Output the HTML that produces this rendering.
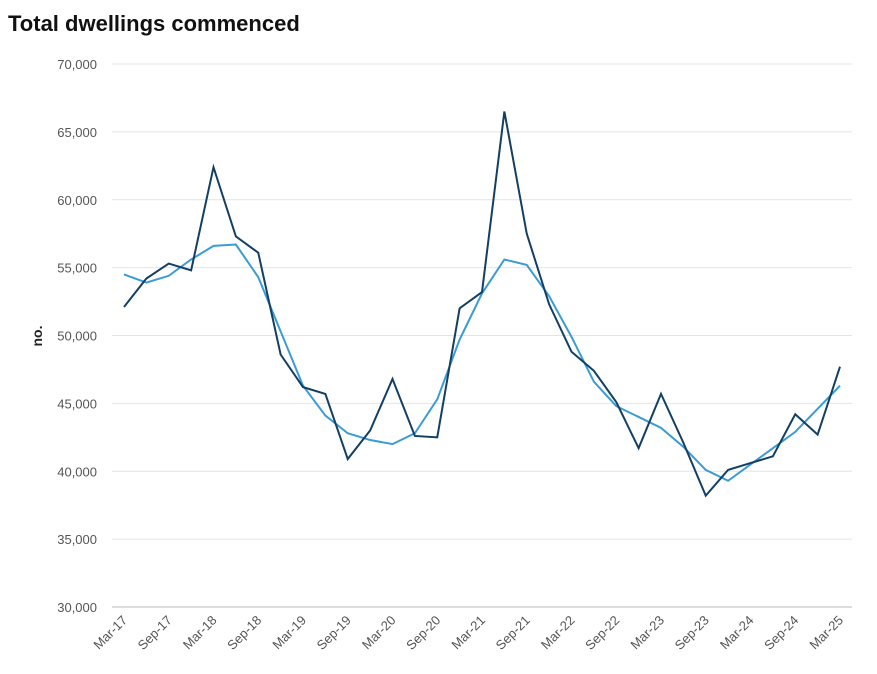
<!DOCTYPE html>
<html><head><meta charset="utf-8"><style>
body{margin:0;background:#fff;font-family:"Liberation Sans",sans-serif;}
</style></head><body>
<svg width="877" height="669" viewBox="0 0 877 669" xmlns="http://www.w3.org/2000/svg">
<text x="8" y="31" font-size="22" font-weight="bold" fill="#111">Total dwellings commenced</text>
<text transform="translate(42,336) rotate(-90)" text-anchor="middle" font-size="14" font-weight="bold" fill="#222">no.</text>
<g id="grid"></g><g id="xl"></g><g id="lines"></g>
</svg>
<script>
const categories=["Mar-17","Jun-17","Sep-17","Dec-17","Mar-18","Jun-18","Sep-18","Dec-18","Mar-19","Jun-19","Sep-19","Dec-19","Mar-20","Jun-20","Sep-20","Dec-20","Mar-21","Jun-21","Sep-21","Dec-21","Mar-22","Jun-22","Sep-22","Dec-22","Mar-23","Jun-23","Sep-23","Dec-23","Mar-24","Jun-24","Sep-24","Dec-24","Mar-25"];
const original=[52100,54200,55300,54800,62400,57300,56100,48600,46200,45700,40900,43000,46800,42600,42500,52000,53200,66500,57500,52300,48800,47400,45100,41700,45700,42100,38200,40100,40600,41100,44200,42700,47700];
const trend=[54500,53900,54400,55600,56600,56700,54300,50300,46300,44100,42800,42300,42000,42800,45300,49700,53100,55600,55200,52900,49900,46600,44800,44000,43200,41800,40100,39300,40500,41700,42900,44600,46300];
const yTicks=[30000,35000,40000,45000,50000,55000,60000,65000,70000];
const NS="http://www.w3.org/2000/svg";
const x=i=>124+i*(840-124)/(categories.length-1);
const y=v=>607-(v-30000)*(607-64)/40000;
const grid=document.getElementById('grid');
yTicks.forEach(t=>{
 const l=document.createElementNS(NS,'line');
 
 
 l.setAttribute('x1',112);l.setAttribute('x2',852);l.setAttribute('y1',y(t));l.setAttribute('y2',y(t));
 l.setAttribute('stroke',t===30000?'#bbb':'#e4e4e4');l.setAttribute('stroke-width',1);
 grid.appendChild(l);
 const tx=document.createElementNS(NS,'text');
 
 
 tx.setAttribute('x',97);tx.setAttribute('y',y(t)+5);tx.setAttribute('text-anchor','end');
 tx.setAttribute('font-size',13);tx.setAttribute('fill','#555');
 tx.textContent=t.toLocaleString('en-US');grid.appendChild(tx);
});
const xl=document.getElementById('xl');
categories.forEach((c,i)=>{
 if(i%2)return;
 const tx=document.createElementNS(NS,'text');
 
 
 tx.setAttribute('transform',`translate(${x(i)+4},${621}) rotate(-45)`);
 tx.setAttribute('text-anchor','end');tx.setAttribute('font-size',13);tx.setAttribute('fill','#555');
 tx.textContent=c;xl.appendChild(tx);
});
const lines=document.getElementById('lines');
function draw(arr,col,name){
 const p=document.createElementNS(NS,'polyline');
 
 
 p.setAttribute('points',arr.map((v,i)=>x(i)+','+y(v)).join(' '));
 p.setAttribute('fill','none');p.setAttribute('stroke',col);p.setAttribute('stroke-width',2);
 lines.appendChild(p);
}
draw(trend,'#3b9bd6','trend-line');
draw(original,'#123f63','original-line');
</script>
</body></html>
